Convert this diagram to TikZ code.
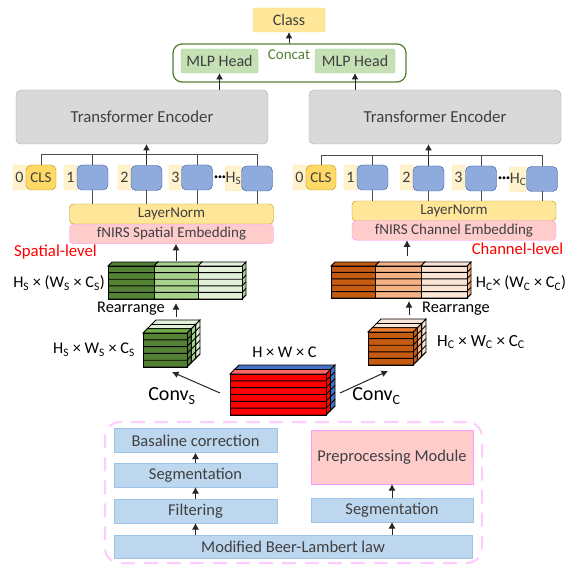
\documentclass[tikz,border=0pt]{standalone}
\usepackage{fontspec}
\setmainfont{Carlito}
\usetikzlibrary{arrows.meta}
\definecolor{greenD}{HTML}{548235}
\definecolor{greenM}{HTML}{A9D18E}
\definecolor{greenL}{HTML}{E2F0D9}
\definecolor{greenB}{HTML}{70AD47}
\definecolor{orangeD}{HTML}{C55A11}
\definecolor{orangeM}{HTML}{F4B183}
\definecolor{orangeL}{HTML}{FBE5D6}
\definecolor{orangeB}{HTML}{ED7D31}
\definecolor{redD}{HTML}{FF0000}
\definecolor{redL}{HTML}{FF6666}
\definecolor{blueT}{HTML}{4472C4}
\definecolor{blueP}{HTML}{8FAADC}
\definecolor{blueE}{HTML}{2F5597}
\definecolor{blueS}{HTML}{BDD7EE}
\definecolor{blueF}{HTML}{9DC3E6}
\definecolor{yellowA}{HTML}{FFE699}
\definecolor{yellowB}{HTML}{FFD966}
\definecolor{yellowC}{HTML}{FFF2CC}
\definecolor{yellowE}{HTML}{BF9000}
\definecolor{pinkF}{HTML}{FFCCCC}
\definecolor{pinkE}{HTML}{FF99FF}
\definecolor{pinkD}{HTML}{FFCCFF}
\definecolor{mlpF}{HTML}{C5E0B4}
\definecolor{encF}{HTML}{D9D9D9}
\definecolor{encE}{HTML}{A6A6A6}
\definecolor{txt}{HTML}{404040}

\begin{document}
\begin{tikzpicture}[
    x=1pt, y=-1pt,
    box/.style={draw, inner sep=0pt, outer sep=0pt, text=txt, align=center},
    encoder/.style={box, fill=encF, draw=encE, rounded corners=5pt, minimum width=252pt, minimum height=54pt, font=\fontsize{16.8}{18}\selectfont}, % Style for the encoders
    mlp/.style={box, fill=mlpF, draw=greenM, rounded corners=2pt, minimum height=24pt, font=\fontsize{16}{18}\selectfont},
    idx/.style={box, fill=yellowC, draw=yellowA, rounded corners=2pt, minimum height=25pt, font=\fontsize{16}{18}\selectfont},
    cls/.style={box, fill=yellowB, draw=yellowE, rounded corners=5pt, minimum width=30pt, minimum height=25pt, font=\fontsize{15}{18}\selectfont},
    patch/.style={box, fill=blueP, draw=blueE, rounded corners=5pt, minimum width=31pt, minimum height=25pt},
    norm/.style={box, fill=yellowA, draw=yellowE, rounded corners=4pt, minimum width=204pt, minimum height=20pt, font=\fontsize{15}{16}\selectfont},
    embed/.style={box, fill=pinkF, draw=pinkE, rounded corners=4pt, minimum width=204pt, minimum height=19.5pt, font=\fontsize{15}{16}\selectfont},
    step_box/.style={box, fill=blueS, draw=blueF, minimum height=24pt, font=\fontsize{16.5}{18}\selectfont},
    lbl/.style={inner sep=0pt, font=\fontsize{16.3}{18}\selectfont},
    arrow/.style={black!85, line width=1pt, -{Latex[length=6.5pt,width=7pt]}},
    stem/.style={black!70, line width=1pt}
]
\useasboundingbox (0,0) rectangle (577,569);

% Output part
\node[box, fill=yellowA, draw=yellowB, rounded corners=2pt, minimum width=72pt, minimum height=24pt, font=\fontsize{16}{18}\selectfont] (class) at (289,20) {Class};
\node[draw=greenD, line width=1.3pt, rounded corners=9pt, inner sep=0pt, minimum width=233pt, minimum height=38pt] (concat) at (289.5,63) {};
\node[mlp, minimum width=77pt] (mlpS) at (219.5,61) {MLP Head};
\node[mlp, minimum width=80pt] (mlpC) at (355,61) {MLP Head};
\node[lbl, text=greenD, font=\fontsize{15}{18}\selectfont] (concatText) at (289,55) {Concat};
\node[encoder] (encS) at (142,117) {Transformer Encoder};
\node[encoder] (encC) at (435,117) {Transformer Encoder};

\draw[arrow] (concat.north -| class.south) -- (class.south);
\draw[arrow] (mlpS.south |- encS.north) -- (mlpS.south);
\draw[arrow] (mlpC.south |- encC.north) -- (mlpC.south);

% Token row, index boxes first
\foreach \nm/\tx/\cx in {idxS0/0/19.5, idxS1/1/70.5, idxS2/2/124.5, idxS3/3/175.5, idxC0/0/299.5, idxC1/1/350.5, idxC2/2/406.5, idxC3/3/458.5}
    \node[idx, minimum width=13pt] (\nm) at (\cx,177.5) {\tx};
\node[idx, minimum width=15pt] (idxS4) at (233.5,178.5) {H\textsubscript{S}};
\node[idx, minimum width=16pt] (idxC4) at (518,179.5) {H\textsubscript{C}};
\node[cls] (clsS) at (41,177.5) {CLS};
\node[cls] (clsC) at (321,177.5) {CLS};
\foreach \nm/\cx/\cy in {patchS1/92.5/177.5, patchS2/146.5/178, patchS3/197/177.5, patchS4/257/178.5, patchC1/372.5/177.5, patchC2/428.5/178.5, patchC3/481/178.5, patchC4/542/179}
    \node[patch] (\nm) at (\cx,\cy) {};
\node[lbl, font=\fontsize{8}{8}\selectfont] (dotsS) at (220,178) {•••};
\node[lbl, font=\fontsize{8}{8}\selectfont] (dotsC) at (504,179) {•••};

\node[norm] (normS) at (171.5,214) {LayerNorm};
\node[embed] (embS) at (171.5,234) {fNIRS Spatial Embedding};
\node[norm] (normC) at (454,211) {LayerNorm};
\node[embed] (embC) at (454,230.5) {fNIRS Channel Embedding};
\node[lbl, text=red, font=\fontsize{16.8}{18}\selectfont] (levelS) at (55.5,252) {Spatial-level};
\node[lbl, text=red, font=\fontsize{16.6}{18}\selectfont] (levelC) at (517.5,249) {Channel-level};

% Bus lines above the token row
\coordinate (busS) at (0,155);
\coordinate (busC) at (0,156);
\draw[stem] (clsS.north) -- (clsS.north |- busS) -- (patchS4.north |- busS) -- (patchS4.north);
\draw[stem] (clsC.north) -- (clsC.north |- busC) -- (patchC4.north |- busC) -- (patchC4.north);
\foreach \nm in {patchS1, patchS3}
    \draw[stem] (\nm.north) -- (\nm.north |- busS);
\foreach \nm in {patchC1, patchC3}
    \draw[stem] (\nm.north) -- (\nm.north |- busC);
\foreach \nm in {patchS1, patchS2, patchS3, patchS4}
    \draw[stem] (\nm.south) -- (\nm.south |- normS.north);
\foreach \nm in {patchC1, patchC2, patchC3, patchC4}
    \draw[stem] (\nm.south) -- (\nm.south |- normC.north);
\draw[arrow] (patchS2.north) -- (patchS2.north |- encS.south);
\draw[arrow] (patchC2.north) -- (patchC2.north |- encC.south);

% Feature blocks: x left/right, y top/bottom, rows, depth from/to, colours top/side/front
\foreach \xa/\xb/\ya/\yb/\rows/\da/\db/\ctop/\cside/\cfront in {
    108/154/266/299/5/0/4/greenD/greenD/greenD,
    154/198/266/299/5/0/4/greenM/greenM/greenM,
    198/242/266/299/5/0/4/greenL/greenM/greenL,
    331/375/266/298/5/0/4/orangeD/orangeD/orangeD,
    375/421/266/298/5/0/4/orangeM/orangeM/orangeM,
    421/467/266/298/5/0/4/orangeL/orangeM/orangeL,
    143/187/333/367/5/8.6/13/greenL/greenL/greenL,
    143/187/333/367/5/4.3/8.6/greenL/greenM/greenM,
    143/187/333/367/5/0/4.3/greenB/greenD/greenD,
    368/413/332/365/5/8.6/13/orangeL/orangeL/orangeL,
    368/413/332/365/5/4.3/8.6/orangeL/orangeM/orangeM,
    368/413/332/365/5/0/4.3/orangeB/orangeD/orangeD,
    230/326/374/415/6/4.5/9/blueT/blueT/blueT,
    230/326/374/415/6/0/4.5/redL/redD/redD}
{
    \draw[line width=0.8pt, fill=\cside] ({\xb+\da},{\ya-\da}) -- ({\xb+\db},{\ya-\db}) -- ({\xb+\db},{\yb-\db}) -- ({\xb+\da},{\yb-\da}) -- cycle;
    \draw[line width=0.8pt, fill=\ctop] ({\xa+\da},{\ya-\da}) -- ({\xa+\db},{\ya-\db}) -- ({\xb+\db},{\ya-\db}) -- ({\xb+\da},{\ya-\da}) -- cycle;
    \draw[line width=1pt, fill=\cfront] ({\xa+\da},{\ya-\da}) rectangle ({\xb+\da},{\yb-\da});
    \foreach \i in {1,...,\rows} {
        \draw[line width=0.9pt] ({\xa+\da},{\ya-\da+\i*(\yb-\ya)/\rows}) -- ({\xb+\da},{\ya-\da+\i*(\yb-\ya)/\rows}) -- ({\xb+\db},{\ya-\db+\i*(\yb-\ya)/\rows});
    }
}

% Named points on the blocks for the arrows
\coordinate (flatS) at (176,261);
\coordinate (flatSb) at (176,303);
\coordinate (cubeSt) at (176,317);
\coordinate (cubeSb) at (172,372);
\coordinate (inputL) at (220,393);
\coordinate (inputR) at (340,393);
\coordinate (cubeCb) at (388,371);
\coordinate (cubeCt) at (409,315);
\coordinate (flatCb) at (409,301);
\coordinate (flatC) at (407,256);

\draw[arrow] (flatS) -- (flatS |- embS.south);
\draw[arrow] (flatC) -- (flatC |- embC.south);
\draw[arrow] (cubeSt) -- (flatSb);
\draw[arrow] (cubeCt) -- (flatCb);
\draw[arrow] (inputL) -- (cubeSb);
\draw[arrow] (inputR) -- (cubeCb);

% Block labels
\node[lbl] (sizeFlatS) at (59,283) {H\textsubscript{S} × (W\textsubscript{S} × C\textsubscript{S})};
\node[lbl] (sizeFlatC) at (521,283) {H\textsubscript{C}× (W\textsubscript{C} × C\textsubscript{C})};
\node[lbl] (rearrS) at (131,309) {Rearrange};
\node[lbl] (rearrC) at (456,309) {Rearrange};
\node[lbl] (sizeS) at (94,350) {H\textsubscript{S} × W\textsubscript{S} × C\textsubscript{S}};
\node[lbl, font=\fontsize{17}{18}\selectfont] (sizeC) at (481,342) {H\textsubscript{C} × W\textsubscript{C} × C\textsubscript{C}};
\node[lbl] (sizeIn) at (284.5,352) {H × W × C};
\node[lbl, font=\fontsize{20}{22}\selectfont] (convS) at (172,396) {Conv\textsubscript{S}};
\node[lbl, font=\fontsize{20}{22}\selectfont] (convC) at (376.5,396) {Conv\textsubscript{C}};

% Preprocessing part
\node[draw=pinkD, line width=2pt, dash pattern=on 14pt off 9pt, rounded corners=15pt, minimum width=377pt, minimum height=141pt, inner sep=0pt] (frame) at (293.5,492.5) {};
\node[step_box, minimum width=163pt] (base) at (195.5,440.5) {Basaline correction};
\node[step_box, minimum width=163pt] (segL) at (195.5,475) {Segmentation};
\node[step_box, minimum width=163pt] (filt) at (195.5,511) {Filtering};
\node[step_box, minimum width=358pt, minimum height=23pt] (beer) at (293,546.5) {Modified Beer-Lambert law};
\node[step_box, minimum width=162pt] (segR) at (392,510) {Segmentation};
\node[box, fill=pinkF, draw=pinkE, line width=1pt, minimum width=162pt, minimum height=54pt, font=\fontsize{16.5}{18}\selectfont] (prep) at (392,457) {Preprocessing Module};

\draw[arrow] (segL) -- (base);
\draw[arrow] (filt) -- (segL);
\draw[arrow] (beer.north -| filt.south) -- (filt);
\draw[arrow] (beer.north -| segR.south) -- (segR);
\draw[arrow] (segR) -- (prep);

\end{tikzpicture}
\end{document}
